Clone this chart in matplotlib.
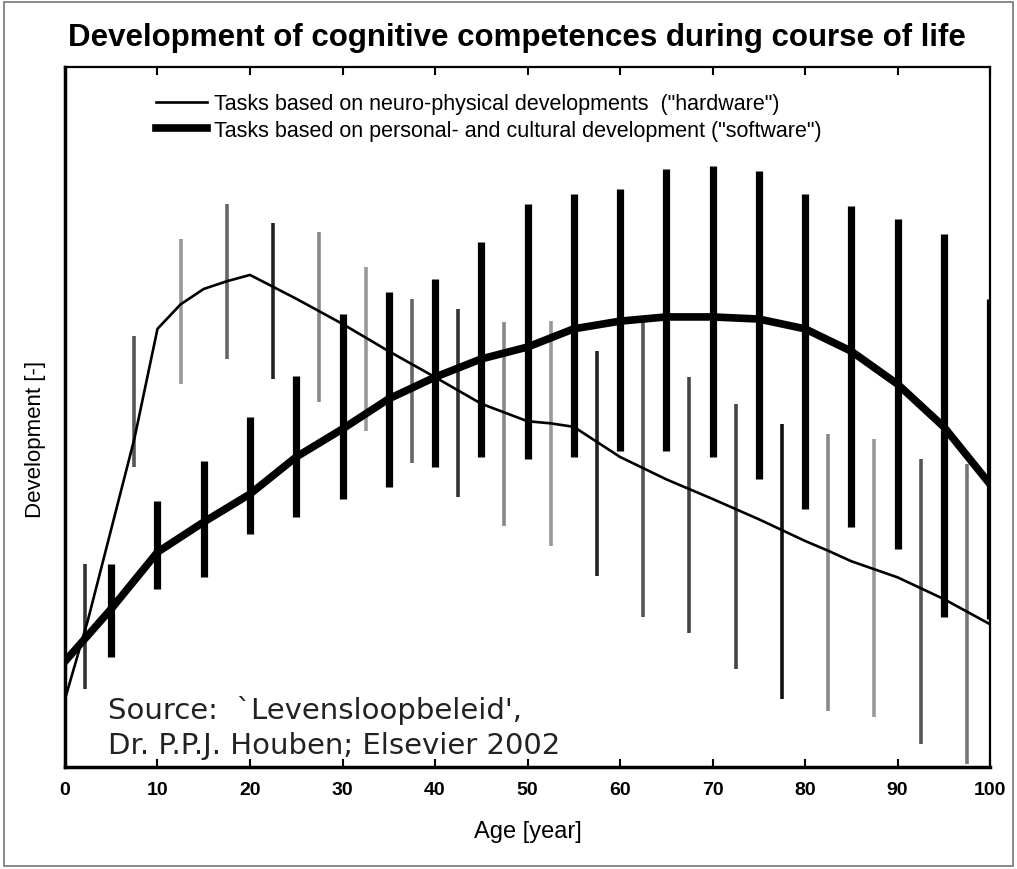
import matplotlib
matplotlib.use("Agg")
import matplotlib.pyplot as plt
from matplotlib.patches import Rectangle

# curve values (age -> development, arbitrary 0..100 scale)
hw_age = [0, 2.5, 5, 7.5, 10, 12.5, 15, 17.5, 20, 25, 30, 35, 40, 45, 50, 52.5,
          55, 60, 65, 70, 75, 80, 82.5, 85, 90, 95, 100]
hw_val = [9.7, 21.1, 34.0, 46.9, 62.6, 66.1, 68.3, 69.4, 70.3, 66.9, 63.3, 59.4,
          55.7, 51.9, 49.4, 49.1, 48.6, 44.3, 41.1, 38.3, 35.4, 32.3, 30.9, 29.4,
          27.1, 24.0, 20.4]

sw_age = [0, 5, 10, 15, 20, 25, 30, 35, 40, 45, 50, 55, 60, 65, 70, 75, 80, 85,
          90, 95, 100]
sw_val = [15.1, 22.6, 30.7, 35.0, 39.0, 44.3, 48.3, 52.6, 55.7, 58.3, 60.0, 62.6,
          63.7, 64.3, 64.3, 64.0, 62.6, 59.4, 54.7, 48.6, 40.4]

# spread bars
sw_bar_age = [5, 10, 15, 20, 25, 30, 35, 40, 45, 50, 55, 60, 65, 70, 75, 80, 85,
              90, 95, 100]
sw_bar_lo = [15.7, 25.4, 27.1, 33.3, 35.7, 38.3, 40.0, 42.9, 44.3, 44.0, 44.3,
             45.1, 45.1, 44.3, 41.1, 36.9, 34.3, 31.1, 21.4, 21.1]
sw_bar_hi = [29.0, 38.0, 43.7, 50.0, 55.9, 64.7, 67.9, 69.7, 75.0, 80.4, 81.9,
             82.6, 85.4, 85.9, 85.1, 81.9, 80.1, 78.3, 76.1, 66.9]

hw_bar_age = [2.2, 7.5, 12.5, 17.5, 22.5, 27.5, 32.5, 37.5, 42.5, 47.5, 52.5,
              57.5, 62.5, 67.5, 72.5, 77.5, 82.5, 87.5, 92.5, 97.5]
hw_bar_lo = [11.1, 42.9, 54.7, 58.3, 55.4, 52.1, 48.0, 43.4, 38.6, 34.4, 31.6,
             27.3, 21.4, 19.1, 14.0, 9.7, 8.0, 7.1, 3.3, 0.4]
hw_bar_hi = [29.0, 61.6, 75.4, 80.4, 77.7, 76.4, 71.4, 66.9, 65.4, 63.6, 63.7,
             59.4, 64.3, 55.7, 51.9, 49.0, 47.6, 46.9, 44.0, 43.3]
hw_bar_col = ["#333333", "#555555", "#999999", "#666666", "#222222", "#888888",
              "#999999", "#666666", "#333333", "#888888", "#999999", "#222222",
              "#555555", "#444444", "#444444", "#111111", "#888888", "#999999",
              "#555555", "#777777"]

x_ticks = list(range(0, 101, 10))

narrow = ["Liberation Sans Narrow", "Liberation Sans", "DejaVu Sans"]

fig = plt.figure(figsize=(10.17, 8.70), dpi=100)
ax = fig.add_axes([0.0639, 0.1172, 0.9096, 0.8046])

ax.vlines(hw_bar_age, hw_bar_lo, hw_bar_hi, colors=hw_bar_col, linewidth=2.6, zorder=3)
ax.vlines(sw_bar_age, sw_bar_lo, sw_bar_hi, colors="black", linewidth=5.2, zorder=3)
ax.plot(hw_age, hw_val, color="black", linewidth=1.9, zorder=4,
        label='Tasks based on neuro-physical developments  ("hardware")')
ax.plot(sw_age, sw_val, color="black", linewidth=5.5, zorder=4,
        label='Tasks based on personal- and cultural development ("software")')

ax.set_xlim(0, 100)
ax.set_ylim(0, 100)
ax.set_xticks(x_ticks)
ax.set_yticks([])
ax.tick_params(axis="x", direction="in", top=True, length=6, width=1.5, pad=10,
               labelsize=14)
for lab in ax.get_xticklabels():
    lab.set_family(narrow)
    lab.set_fontweight("bold")
for side in ["left", "bottom"]:
    ax.spines[side].set_linewidth(2.5)
for side in ["top", "right"]:
    ax.spines[side].set_linewidth(1.6)

ax.set_xlabel("Age [year]", fontsize=17, family=narrow, labelpad=16)
ax.set_ylabel("Development [-]", fontsize=16, family=narrow)
ax.yaxis.set_label_coords(-0.021, 0.47)

leg = ax.legend(loc="upper left", bbox_to_anchor=(0.077, 0.99), frameon=False,
                handlelength=2.4, handletextpad=0.3, labelspacing=0.25,
                prop={"family": narrow, "size": 15.5})

ax.text(0.047, 0.103, "Source:  `Levensloopbeleid',\nDr. P.P.J. Houben; Elsevier 2002",
        transform=ax.transAxes, fontsize=21, family="DejaVu Sans",
        color="#222222", linespacing=1.3, va="top", ha="left")

fig.text(0.508, 0.956, "Development of cognitive competences during course of life",
         ha="center", va="center", fontsize=22.5, fontweight="bold",
         family=narrow)

fig.patches.append(Rectangle((0.004, 0.004), 0.992, 0.992, transform=fig.transFigure,
                             fill=False, edgecolor="#777777", linewidth=1.2))

fig.savefig("out.png", dpi=100)
